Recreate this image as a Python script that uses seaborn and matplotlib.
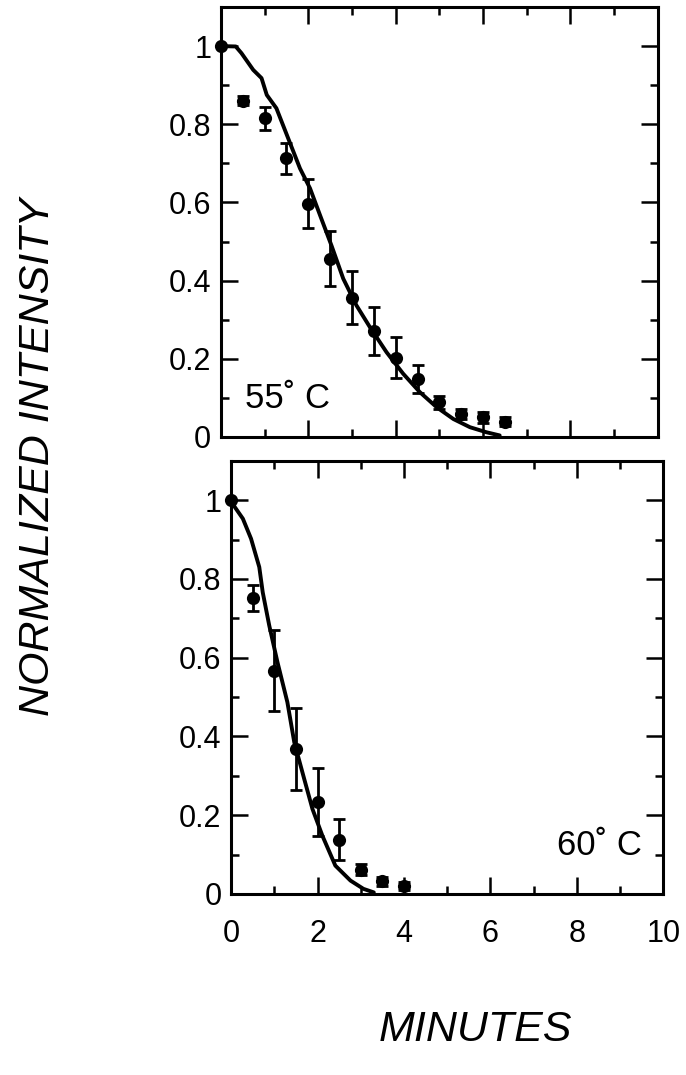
import matplotlib
matplotlib.use("Agg")
import matplotlib.pyplot as plt
from matplotlib.ticker import MultipleLocator
import seaborn as sns

# Measured intensity decay at 55 °C
t55 = [0, 0.5, 1, 1.5, 2, 2.5, 3, 3.5, 4, 4.5, 5, 5.5, 6, 6.5]
i55 = [1.0, 0.86, 0.815, 0.713, 0.597, 0.456, 0.356, 0.271, 0.203, 0.149, 0.089, 0.059, 0.05, 0.039]
e55 = [0.0, 0.012, 0.03, 0.04, 0.062, 0.07, 0.068, 0.062, 0.053, 0.036, 0.017, 0.012, 0.014, 0.012]

# Model curve at 55 °C
fit55_t = [0, 0.34, 0.47, 0.74, 0.93, 1.05, 1.27, 1.54, 1.81, 2.04, 2.27, 2.53, 2.80,
           3.10, 3.41, 3.79, 4.17, 4.55, 4.94, 5.32, 5.70, 6.08, 6.38]
fit55_i = [1.0, 0.999, 0.982, 0.939, 0.918, 0.875, 0.841, 0.764, 0.687, 0.636, 0.567, 0.49,
           0.405, 0.337, 0.281, 0.217, 0.162, 0.115, 0.076, 0.046, 0.025, 0.012, 0.004]

# Measured intensity decay at 60 °C
t60 = [0, 0.5, 1, 1.5, 2, 2.5, 3, 3.5, 4]
i60 = [1.0, 0.752, 0.567, 0.368, 0.233, 0.138, 0.062, 0.032, 0.021]
e60 = [0.0, 0.033, 0.103, 0.104, 0.087, 0.053, 0.015, 0.012, 0.01]

# Model curve at 60 °C
fit60_t = [0, 0.08, 0.27, 0.46, 0.65, 0.73, 0.88, 1.07, 1.30, 1.46, 1.69, 1.88, 2.11,
           2.41, 2.76, 3.06, 3.30]
fit60_i = [1.0, 0.983, 0.953, 0.902, 0.830, 0.766, 0.682, 0.589, 0.487, 0.385, 0.292,
           0.216, 0.148, 0.072, 0.034, 0.013, 0.004]

panel_labels = ["55˚ C", "60˚ C"]
x_ticks = [0, 2, 4, 6, 8, 10]
y_ticks = [0, 0.2, 0.4, 0.6, 0.8, 1]
y_ticklabels = ["0", "0.2", "0.4", "0.6", "0.8", "1"]

sns.set_theme(style="ticks")
plt.rcParams["font.family"] = ["Liberation Sans", "DejaVu Sans"]
plt.rcParams["text.color"] = "black"
plt.rcParams["xtick.color"] = "black"
plt.rcParams["ytick.color"] = "black"
plt.rcParams["xtick.labelcolor"] = "black"
plt.rcParams["ytick.labelcolor"] = "black"

fig = plt.figure(figsize=(6.86, 10.75), dpi=100)
ax_top = fig.add_axes([0.322, 0.5935, 0.637, 0.400])
ax_bot = fig.add_axes([0.337, 0.1684, 0.630, 0.403])


def draw_panel(ax, t, y, e, ft, fy):
    sns.lineplot(x=ft, y=fy, ax=ax, color="black", linewidth=2.8, sort=False)
    ax.errorbar(t, y, yerr=e, fmt="none", ecolor="black", elinewidth=2.0,
                capsize=4.5, capthick=2.0, zorder=3)
    sns.scatterplot(x=t, y=y, ax=ax, color="black", s=90, edgecolor="black",
                    linewidth=0, zorder=4, clip_on=False)
    ax.set_xlim(0, 10)
    ax.set_ylim(0, 1.1)
    ax.xaxis.set_major_locator(MultipleLocator(2))
    ax.xaxis.set_minor_locator(MultipleLocator(1))
    ax.set_yticks(y_ticks)
    ax.set_yticklabels(y_ticklabels)
    ax.yaxis.set_minor_locator(MultipleLocator(0.1))
    ax.tick_params(which="both", direction="in", top=True, right=True,
                   color="black", width=1.8)
    ax.tick_params(which="major", length=12, labelsize=22, pad=7)
    ax.tick_params(which="minor", length=6)
    ax.tick_params(axis="x", which="major", pad=18)
    for sp in ax.spines.values():
        sp.set_linewidth(2.2)
        sp.set_color("black")
    ax.set_xlabel("")
    ax.set_ylabel("")


draw_panel(ax_top, t55, i55, e55, fit55_t, fit55_i)
draw_panel(ax_bot, t60, i60, e60, fit60_t, fit60_i)

ax_top.set_xticks(x_ticks)
ax_top.tick_params(axis="x", labelbottom=False)
ax_bot.set_xticks(x_ticks)

ax_top.text(0.055, 0.067, panel_labels[0], transform=ax_top.transAxes,
            fontsize=25, ha="left", va="baseline")
ax_bot.text(0.95, 0.09, panel_labels[1], transform=ax_bot.transAxes,
            fontsize=25, ha="right", va="baseline")

fig.text(38 / 686, 1 - 457 / 1075, "NORMALIZED INTENSITY", rotation=90,
         fontsize=31, style="italic", ha="center", va="center")
fig.text(475 / 686, 1 - 1030 / 1075, "MINUTES", fontsize=31, style="italic",
         ha="center", va="center")

fig.savefig("out.png", dpi=100, facecolor="white")
